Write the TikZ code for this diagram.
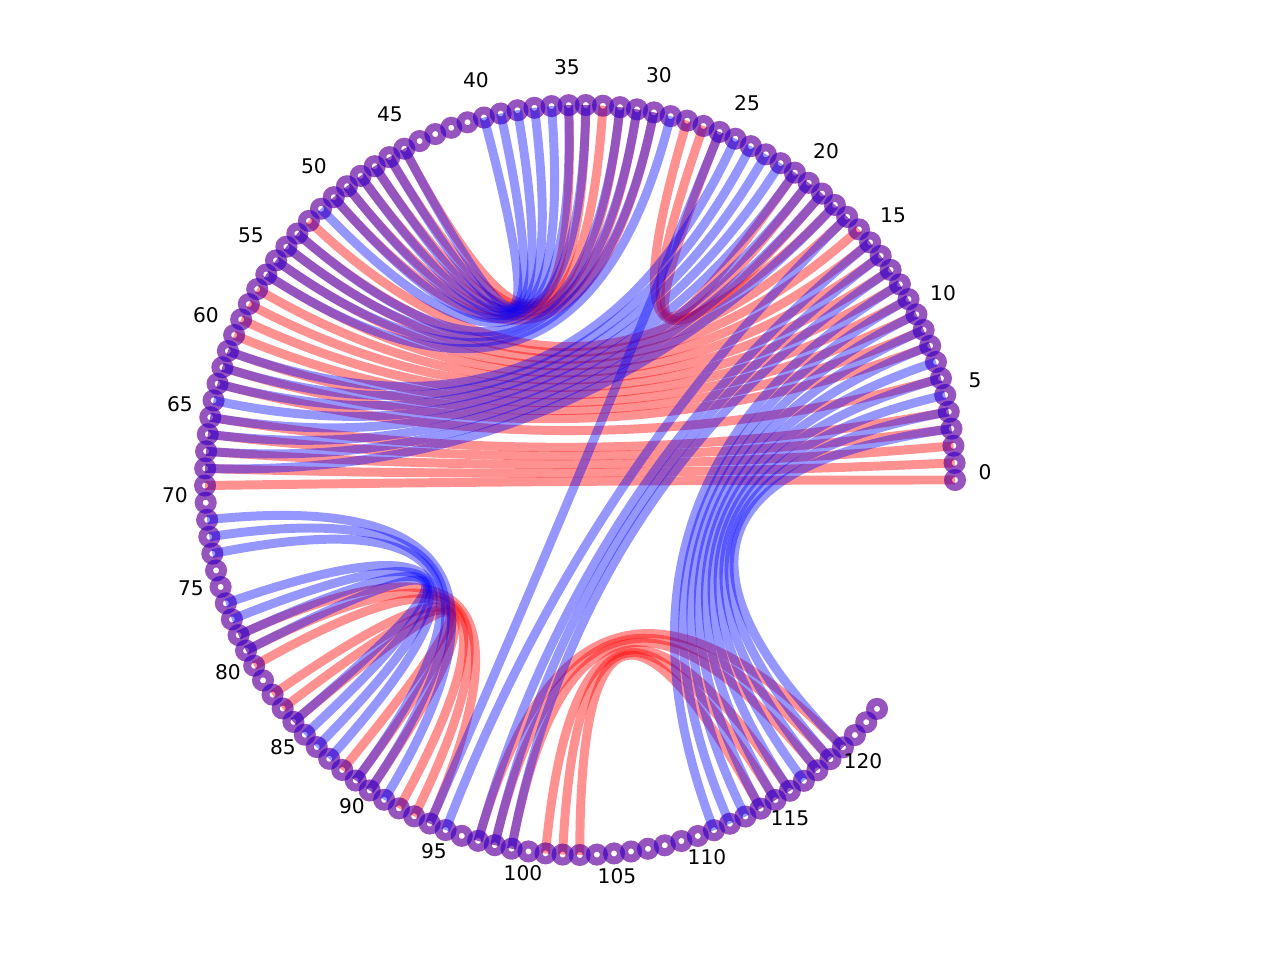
\documentclass[tikz,border=0pt]{standalone}
\usepackage{fontspec}
\setmainfont{DejaVu Sans}
\usetikzlibrary{calc}

\tikzset{
  redpair/.style={draw=red,draw opacity=0.43,line width=5.1pt},
  bluepair/.style={draw=blue,draw opacity=0.41,line width=5.1pt},
  redring/.style={draw=red,draw opacity=0.43,line width=4.5pt},
  bluering/.style={draw=blue,draw opacity=0.41,line width=4.5pt},
  idx/.style={font=\fontsize{11.5}{13}\selectfont,inner sep=0pt}
}
% chord from base a to base b, bent towards the centre
\newcommand{\chord}[3]{\draw[#1] (n#2) .. controls ($(n#2)!0.6667!(ctr)$) and ($(n#3)!0.6667!(ctr)$) .. (n#3);}

\begin{document}
\begin{tikzpicture}[x=0.02cm,y=0.02cm]
  \useasboundingbox (-580,-480) rectangle (700,480);
  \coordinate (ctr) at (0,0);
  \foreach \i in {0,...,123}
    \coordinate (n\i) at ({\i*2.621}:375);

  % first structure
  \foreach \a/\b in {0/69,1/68,2/67,3/66,4/65,6/63,8/62,9/61,10/60,11/59,12/58,13/57,
                     14/56,15/55,16/54,17/53,18/52,19/28,20/27,21/26,
                     30/50,31/49,32/48,33/47,34/46,35/45,
                     78/94,79/93,80/92,82/90,83/89,84/88,
                     97/120,98/119,99/118,101/116,102/115,103/114}
    {\chord{redpair}{\a}{\b}}
  \foreach \i in {0,...,123}
    \draw[redring] (n\i) circle (7);

  % second structure
  \foreach \a/\b in {3/120,4/119,5/118,6/117,7/116,8/115,9/114,10/113,11/112,12/111,
                     13/99,14/98,15/97,17/95,26/94,
                     18/68,19/67,20/66,21/65,22/64,23/63,24/62,25/61,
                     29/56,30/55,31/54,32/53,34/51,35/50,36/49,37/48,38/47,39/46,40/45,
                     71/91,72/90,73/89,76/87,77/86,78/85,79/84}
    {\chord{bluepair}{\a}{\b}}
  \foreach \i in {0,...,123}
    \draw[bluering] (n\i) circle (7);

  % index labels
  \foreach \k/\x/\y in {0/405/8,5/395/100,10/363/187,15/313/265,20/246/329,25/167/377,
                        30/79/405,35/-13/413,40/-104/400,45/-190/366,50/-266/314,
                        55/-329/245,60/-374/165,65/-400/76,70/-405/-15,75/-389/-108,
                        80/-352/-192,85/-297/-267,90/-228/-326,95/-146/-371,
                        100/-57/-393,105/37/-396,110/127/-377,115/210/-338,120/283/-281}
    \node[idx] (l\k) at (\x,\y) {\k};
\end{tikzpicture}
\end{document}
